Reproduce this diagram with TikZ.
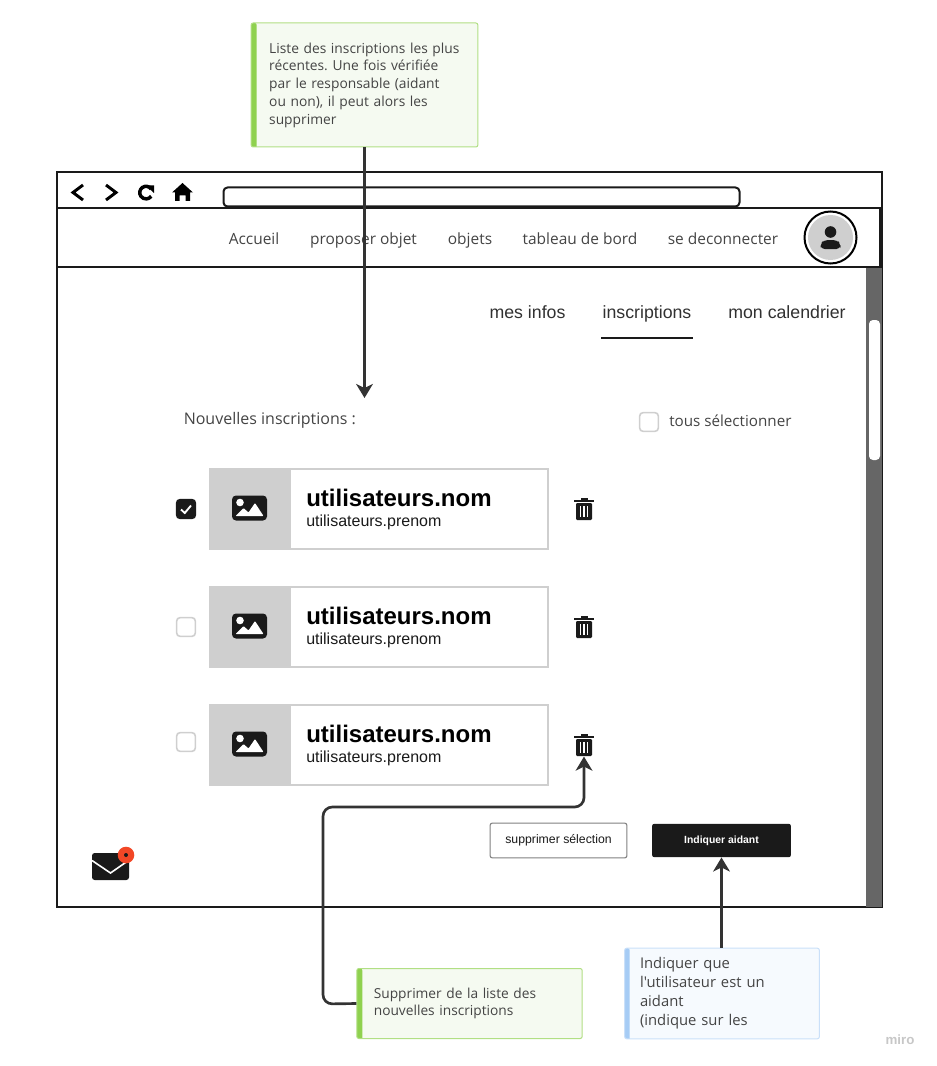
\documentclass[tikz,border=0pt]{standalone}
\usepackage{fontspec}
\setmainfont{Open Sans}
\newfontfamily\arialfont{Liberation Sans}
\newfontfamily\notefont{Open Sans}
\usetikzlibrary{arrows.meta,positioning}
\definecolor{inkdark}{HTML}{1A1A1A}
\definecolor{linkgrey}{HTML}{333333}
\definecolor{cardgrey}{HTML}{CFCFCF}
\definecolor{navtext}{HTML}{444444}
\definecolor{notegreen}{HTML}{8FD14F}
\definecolor{notegreenbg}{HTML}{F5FAF1}
\definecolor{noteblue}{HTML}{A6CCF5}
\definecolor{notebluebg}{HTML}{F6FAFE}
\definecolor{badgered}{HTML}{F24726}
\frenchspacing
\tikzset{
frameline/.style={draw=inkdark,line width=1.8pt},
navlabel/.style={text=navtext,font=\fontsize{11.6}{13}\selectfont,inner sep=0pt,anchor=base},
tablabel/.style={text=inkdark!90,font=\arialfont\fontsize{13.3}{16}\selectfont,inner sep=0pt,anchor=base},
greennote/.style={rectangle,rounded corners=1.5pt,draw=notegreen!70,line width=.75pt,fill=notegreenbg,
  text=navtext,align=left,inner ysep=0pt,
  path picture={\fill[notegreen] (path picture bounding box.north west) rectangle ++(5.5,300);}},
bluenote/.style={greennote,draw=noteblue!60,fill=notebluebg,
  path picture={\fill[noteblue] (path picture bounding box.north west) rectangle ++(5,300);}},
card/.style={rectangle,draw=cardgrey,line width=1.5pt,fill=white,minimum width=253.5pt,minimum height=60pt,inner sep=0pt},
checkoff/.style={rectangle,rounded corners=2.5pt,draw=cardgrey,line width=1.2pt,fill=white,minimum size=14pt,inner sep=0pt},
checkon/.style={checkoff,draw=inkdark,fill=inkdark},
iconbox/.style={rectangle,inner sep=0pt,minimum width=15pt,minimum height=17pt},
link/.style={draw=linkgrey,line width=2pt,rounded corners=7pt,-{Stealth[length=10.5pt,width=12.5pt,inset=3pt]}},
chevron/.style={draw=black,line width=2.2pt,line join=miter},
trashicon/.pic={
  \fill[inkdark,rounded corners=.9pt] (-8,-6) rectangle (8,11);
  \fill[inkdark] (-10,-9.5) rectangle (10,-7);
  \fill[inkdark] (-3.5,-11.5) rectangle (3.5,-9);
  \foreach \xs in {-3.6,0,3.6} {\fill[white] (\xs-.7,-3) rectangle (\xs+.7,8);}
},
imageicon/.pic={
  \fill[inkdark,rounded corners=3pt] (-17.5,-12.5) rectangle (17.5,12.5);
  \fill[white] (-9.5,-5.5) circle (3.8);
  \fill[white,rounded corners=.6pt] (-14,8) -- (-6,0) -- (-1,4.5) -- (5.5,-5) -- (14,8) -- cycle;
},
}
\begin{document}
\begin{tikzpicture}[x=.75pt,y=-.75pt]
\useasboundingbox (0,0) rectangle (937,1066);
% browser window
\draw[frameline] (57,172) rectangle (882,907);
\fill[black!60] (866,268) rectangle (882,907);
\fill[white,rounded corners=3pt] (869,320) rectangle (880,460);
\draw[frameline] (57,208) rectangle (880,267);
\draw[frameline,line width=1.5pt,rounded corners=3pt] (223.5,187.5) rectangle (739.5,206.5);
% toolbar icons
\draw[chevron] (83,185) -- (73,192.5) -- (83,200);
\draw[chevron] (106,185) -- (116,192.5) -- (106,200);
\draw[black,line width=2.6pt] (151.2,189) arc[start angle=-35,end angle=-325,radius=6.3];
\fill[black] (146,185.5) -- (154,185.5) -- (154,193) -- cycle;
\fill[black] (182.5,183) -- (193,192.5) -- (190,192.5) -- (190,201) -- (185.5,201) -- (185.5,195.5) -- (179.5,195.5) -- (179.5,201) -- (175,201) -- (175,192.5) -- (172,192.5) -- cycle;
% navigation
\node[navlabel] (navhome) at (254,244) {Accueil};
\node[navlabel] (navoffer) at (363.5,244) {proposer objet};
\node[navlabel] (navitems) at (470,244) {objets};
\node[navlabel] (navboard) at (580,244) {tableau de bord};
\node[navlabel] (navlogout) at (723,244) {se deconnecter};
\draw[black,line width=1.5pt,fill=white] (830.5,237.5) circle (26);
\fill[cardgrey] (830.5,237.5) circle (22.5);
\fill[inkdark] (830.5,232) circle (5.8);
\fill[inkdark,rounded corners=3pt] (820.5,249) -- (820.5,244) -- (824,240) -- (837,240) -- (840.5,244) -- (840.5,249) -- cycle;
% tabs
\node[tablabel] (tabinfo) at (527.5,318) {mes infos};
\node[tablabel] (tabsignup) at (647,318) {inscriptions};
\node[tablabel] (tabcalendar) at (787,318) {mon calendrier};
\draw[inkdark,line width=1.5pt] (601,338) -- (693,338);
% list
\node[text=navtext,font=\fontsize{12}{14}\selectfont,inner sep=0pt,anchor=base west] (listtitle) at (183.5,424) {Nouvelles inscriptions :};
\node[checkoff] (checkall) at (649,422) {};
\node[text=navtext,font=\fontsize{11.4}{13}\selectfont,inner sep=0pt,anchor=base west] (checkalltext) at (669,426.5) {tous sélectionner};
\foreach \row/\ycard/\ycheck/\ytrash/\chk in {A/509/509/509/checkon,B/627/627/627/checkoff,C/745/742/745/checkoff} {
  \node[card] (card\row) at (378.5,\ycard) {};
  \fill[cardgrey] (209,\ycard-40) rectangle (291,\ycard+40);
  \pic at (249.5,\ycard-1) {imageicon};
  \node[inner sep=0pt,anchor=base west,font=\arialfont\bfseries\fontsize{18}{20}\selectfont,text=black] (nom\row) at (306,\ycard-3) {utilisateurs.nom};
  \node[inner sep=0pt,anchor=base west,font=\arialfont\fontsize{12}{14}\selectfont,text=inkdark] (prenom\row) at (306,\ycard+17) {utilisateurs.prenom};
  \node[\chk] (check\row) at (186,\ycheck) {};
  \node[iconbox] (trash\row) at (584,\ytrash) {};
  \pic at (584,\ytrash) {trashicon};
}
\draw[white,line width=1.4pt] (181,509.5) -- (184.8,513) -- (191,505.5);
% bottom actions
\node[rectangle,rounded corners=1.5pt,draw=black!50,line width=.8pt,fill=white,minimum width=102.5pt,minimum height=26pt,inner sep=0pt,text=inkdark,font=\arialfont\fontsize{9.2}{11}\selectfont] (btndelete) at (558.5,840.5) {supprimer sélection};
\node[rectangle,rounded corners=1.5pt,fill=inkdark,minimum width=104pt,minimum height=25pt,inner sep=0pt,text=white,font=\arialfont\bfseries\fontsize{7.8}{10}\selectfont] (btnhelper) at (721.5,840.5) {Indiquer aidant};
\fill[inkdark,rounded corners=2pt] (92,853) rectangle (129,880);
\draw[white,line width=1.2pt] (92,860.5) -- (110.5,873) -- (127,861.5);
\fill[badgered] (126,855) circle (8.3);
\fill[inkdark] (126,855) circle (2);
% notes
\node[greennote,minimum width=170pt,minimum height=93pt,text width=143pt,inner xsep=13.5pt,font=\fontsize{10.35}{13.3}\selectfont] (notelist) at (364.5,85) {Liste des inscriptions les plus\\ récentes. Une fois vérifiée\\ par le responsable (aidant\\ ou non), il peut alors les\\ supprimer};
\node[greennote,minimum width=169pt,minimum height=52.5pt,text width=143.5pt,inner xsep=12.75pt,font=\fontsize{10.3}{12.8}\selectfont] (notedelete) at (469.5,1003.5) {Supprimer de la liste des\\ nouvelles inscriptions};
\node[bluenote,minimum width=146pt,minimum height=68pt,text width=123pt,inner xsep=11.5pt,font=\notefont\fontsize{11.1}{14.2}\selectfont] (notehelper) at (722,993.5) {Indiquer que\\ l'utilisateur est un\\ aidant\\ (indique sur les};
% connectors
\coordinate (listtarget) at (364.5,398);
\draw[link] (notelist.south) -- (listtarget);
\draw[link] (notedelete.west) -- (323,1004) -- (323,807) -- (584,807) -- (trashC.south);
\draw[link] (notehelper.north -| btnhelper.south) -- (btnhelper.south);
\node[text=black!22,font=\arialfont\bfseries\fontsize{10}{12}\selectfont,inner sep=0pt] (watermark) at (900,1040) {miro};
\end{tikzpicture}
\end{document}
